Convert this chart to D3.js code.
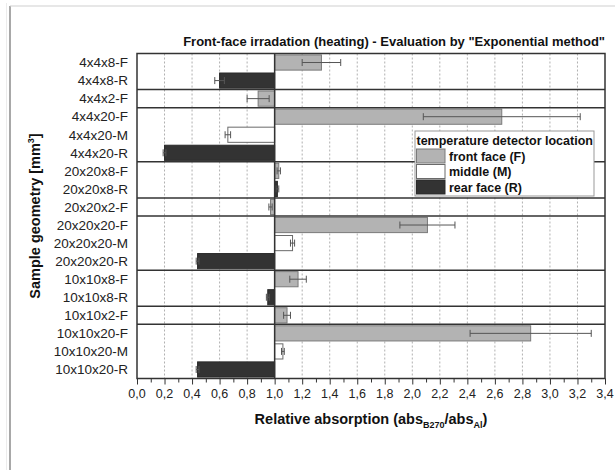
<!DOCTYPE html>
<html><head><meta charset="utf-8">
<script src="https://cdn.jsdelivr.net/npm/d3@7"></script>
<style>body{margin:0;background:#fff}svg{display:block;font-family:"Liberation Sans",Arial,sans-serif}</style>
</head><body><svg id="c" width="615" height="470"></svg>
<script>
const categories = ["4x4x8-F","4x4x8-R","4x4x2-F","4x4x20-F","4x4x20-M","4x4x20-R","20x20x8-F","20x20x8-R","20x20x2-F","20x20x20-F","20x20x20-M","20x20x20-R","10x10x8-F","10x10x8-R","10x10x2-F","10x10x20-F","10x10x20-M","10x10x20-R"];
const values = [1.34,0.60,0.88,2.65,0.66,0.20,1.03,1.02,0.97,2.11,1.13,0.44,1.17,0.95,1.09,2.86,1.06,0.44];
const errors = [0.14,0.035,0.08,0.57,0.02,0.01,0.012,0.01,0.012,0.20,0.015,0.01,0.06,0.01,0.025,0.44,0.01,0.01];
const locations = ["F","R","F","F","M","R","F","R","F","F","M","R","F","R","F","F","M","R"];
const groupStarts = ["4x4x2-F","4x4x20-F","20x20x8-F","20x20x2-F","20x20x20-F","10x10x8-F","10x10x2-F","10x10x20-F"];
const xTicks = [0,0.2,0.4,0.6,0.8,1.0,1.2,1.4,1.6,1.8,2.0,2.2,2.4,2.6,2.8,3.0,3.2,3.4];
const legendKeys = ["F","M","R"];
const legendLabels = ["front face (F)","middle (M)","rear face (R)"];
const baseline = 1.0;

const fills = {F:"#b3b3b3", M:"#ffffff", R:"#333333"};
const strokes = {F:"#7a7a7a", M:"#6a6a6a", R:"#2a2a2a"};

const svg = d3.select("#c");
const L = 137, R = 605, T = 53.5, B = 378.5;

// outer frame
svg.append("line").attr("x1",10).attr("y1",6).attr("x2",10).attr("y2",470).attr("stroke","#a8a8a8").attr("stroke-width",2);
svg.append("line").attr("x1",10).attr("y1",6).attr("x2",615).attr("y2",6).attr("stroke","#cfcfcf").attr("stroke-width",1);
svg.append("line").attr("x1",6.5).attr("y1",3).attr("x2",6.5).attr("y2",470).attr("stroke","#ececec").attr("stroke-width",1);

const x = d3.scaleLinear().domain([0,3.4]).range([L,R]);
const y = d3.scaleBand().domain(categories).range([T,B]).paddingInner(0.16).paddingOuter(0.08);

// grid
svg.append("g").selectAll("line").data(xTicks.filter(d=>d>0&&d<3.4&&d!==baseline)).join("line")
  .attr("x1",d=>x(d)).attr("x2",d=>x(d)).attr("y1",T).attr("y2",B)
  .attr("stroke","#b0b0b0").attr("stroke-dasharray","2,2").attr("stroke-width",1);

// bars
const data = categories.map((c,i)=>({c,v:values[i],e:errors[i],k:locations[i]}));
svg.append("g").selectAll("rect").data(data).join("rect")
  .attr("x",d=>x(Math.min(d.v,baseline)))
  .attr("width",d=>Math.abs(x(d.v)-x(baseline)))
  .attr("y",d=>y(d.c)).attr("height",y.bandwidth())
  .attr("fill",d=>fills[d.k]).attr("stroke",d=>strokes[d.k]).attr("stroke-width",1);

// error bars
const eg = svg.append("g").attr("stroke","#555").attr("stroke-width",1);
data.forEach(d=>{
  const cy = y(d.c)+y.bandwidth()/2;
  eg.append("line").attr("x1",x(d.v-d.e)).attr("x2",x(d.v+d.e)).attr("y1",cy).attr("y2",cy);
  [d.v-d.e,d.v+d.e].forEach(v=>eg.append("line").attr("x1",x(v)).attr("x2",x(v)).attr("y1",cy-3.5).attr("y2",cy+3.5));
});

// group separators
const step = y.step();
svg.append("g").selectAll("line").data(groupStarts).join("line")
  .attr("x1",L).attr("x2",R)
  .attr("y1",d=>y(d)-step*0.08).attr("y2",d=>y(d)-step*0.08)
  .attr("stroke","#333").attr("stroke-width",1.5);

// baseline
svg.append("line").attr("x1",x(baseline)).attr("x2",x(baseline)).attr("y1",T).attr("y2",B).attr("stroke","#333").attr("stroke-width",1.5);

// frame
svg.append("rect").attr("x",L).attr("y",T).attr("width",R-L).attr("height",B-T).attr("fill","none").attr("stroke","#333").attr("stroke-width",1.5);

// x axis
const xa = svg.append("g").attr("transform",`translate(0,${B})`)
  .call(d3.axisBottom(x).tickValues(d3.range(0,35).map(i=>i/10)).tickSize(5).tickFormat(""));
xa.select(".domain").remove();
xa.selectAll(".tick line").attr("stroke","#333").attr("y2",(d,i)=>i%2===0?6:4);
svg.append("g").selectAll("text").data(xTicks).join("text")
  .attr("x",d=>x(d)).attr("y",B+19).attr("text-anchor","middle")
  .attr("font-size",12.5).attr("fill","#222")
  .text(d=>d3.format(".1f")(d).replace(".",","));

// y labels
svg.append("g").selectAll("text").data(categories).join("text")
  .attr("x",128).attr("y",d=>y(d)+y.bandwidth()/2+4.8).attr("text-anchor","end")
  .attr("font-size",13.5).attr("fill","#222").text(d=>d);

// title
svg.append("text").attr("x",R).attr("y",46).attr("text-anchor","end")
  .attr("font-size",13).attr("font-weight","bold").attr("fill","#111")
  .text('Front-face irradation (heating) - Evaluation by "Exponential method"');

// x axis title
const xt = svg.append("text").attr("x",(L+R)/2).attr("y",424).attr("text-anchor","middle")
  .attr("font-size",14.5).attr("font-weight","bold").attr("fill","#111");
xt.append("tspan").text("Relative absorption (abs");
xt.append("tspan").attr("font-size",9).attr("dy",4).text("B270");
xt.append("tspan").attr("dy",-4).text("/abs");
xt.append("tspan").attr("font-size",9).attr("dy",4).text("Al");
xt.append("tspan").attr("dy",-4).text(")");

// y axis title
const yt = svg.append("text").attr("transform",`translate(40,${(T+B)/2}) rotate(-90)`)
  .attr("text-anchor","middle").attr("font-size",14.5).attr("font-weight","bold").attr("fill","#111");
yt.append("tspan").text("Sample geometry [mm");
yt.append("tspan").attr("font-size",9).attr("dy",-6).text("3");
yt.append("tspan").attr("dy",6).text("]");

// legend
const lg = svg.append("g");
lg.append("rect").attr("x",415).attr("y",131).attr("width",179).attr("height",65)
  .attr("fill","#fff").attr("stroke","#999").attr("stroke-width",1);
lg.append("text").attr("x",416.5).attr("y",144.5).attr("font-size",12.5).attr("font-weight","bold").attr("fill","#111").text("temperature detector location");
legendKeys.forEach((k,i)=>{
  const yy = 149 + i*15.5;
  lg.append("rect").attr("x",416.5).attr("y",yy).attr("width",28.5).attr("height",14)
    .attr("fill",fills[k]).attr("stroke",strokes[k]).attr("stroke-width",1);
  lg.append("text").attr("x",449).attr("y",yy+11.5).attr("font-size",12.5).attr("font-weight","bold").attr("fill","#111").text(legendLabels[i]);
});
</script></body></html>
